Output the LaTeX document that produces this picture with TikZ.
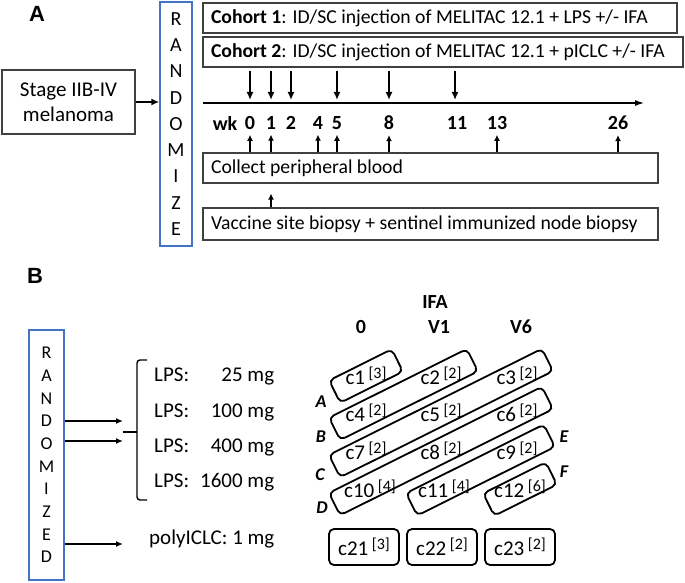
\documentclass[tikz,border=0pt]{standalone}
\usepackage{fontspec}
\setmainfont{Carlito}
\newfontfamily\panelfont{Liberation Sans}
\usetikzlibrary{arrows.meta,calc}
\definecolor{randblue}{RGB}{68,114,196}
\newcommand{\ncount}[1]{\,\raisebox{6pt}{\fontsize{16}{16}\selectfont[#1]}}

\begin{document}
\begin{tikzpicture}[
        x=1pt, y=-1pt,
        tbox/.style={draw=black!75, line width=1.1pt, rectangle, inner xsep=8pt, inner ysep=0pt, font=\fontsize{19.7}{24}\selectfont},
        rbox/.style={draw=randblue, line width=1.4pt, align=center, inner sep=0pt},
        wk/.style={font=\fontsize{20}{24}\selectfont\bfseries, inner sep=2pt},
        big/.style={->, >={Latex[length=8pt,width=7pt]}, line width=2pt},
        small/.style={->, >={Latex[length=6pt,width=6pt]}, line width=1.5pt},
        clab/.style={font=\fontsize{21}{25}\selectfont, inner sep=1pt},
        band/.style={draw, line width=1.8pt, rounded corners=5pt, rotate=26.5, minimum height=25pt, inner sep=0pt},
        cbox/.style={draw, line width=1.8pt, rounded corners=5pt, minimum width=70pt, minimum height=36pt, font=\fontsize{21}{25}\selectfont},
        steplab/.style={font=\fontsize{18}{20}\selectfont\bfseries\itshape}
        ]
    \useasboundingbox (0,0) rectangle (685,583);

    % Panel A
    \node[font=\panelfont\fontsize{22}{24}\selectfont\bfseries] (panA) at (37,14) {A};
    \node[tbox, align=center, inner xsep=0pt, minimum width=133pt, minimum height=64pt, font=\fontsize{21}{25}\selectfont] (stage) at (68.5,102) {Stage IIB-IV\\melanoma};
    \node[rbox, minimum width=32pt, minimum height=244pt, font=\fontsize{20}{26.25}\selectfont] (randA) at (176,124) {R\\A\\N\\D\\O\\M\\I\\Z\\E};
    \node[tbox, minimum height=30pt] (coh1) at (440,18) {\makebox[458pt][l]{\textbf{Cohort 1}: ID/SC injection of MELITAC 12.1 + LPS +/- IFA}};
    \node[tbox, minimum height=30pt] (coh2) at (443,52) {\makebox[464pt][l]{\textbf{Cohort 2}: ID/SC injection of MELITAC 12.1 + pICLC +/- IFA}};
    \node[tbox, minimum height=30pt] (blood) at (430.5,168) {\makebox[439pt][l]{Collect peripheral blood}};
    \node[tbox, minimum height=32pt] (biopsy) at (430.5,224) {\makebox[439pt][l]{Vaccine site biopsy + sentinel immunized node biopsy}};

    \draw[big] (stage.east) -- (stage.east -| randA.west);

    % Time line and weeks
    \coordinate (tl0) at (203,103);
    \coordinate (tl1) at (645,103);
    \draw[line width=2pt, -{Latex[length=10pt,width=6pt]}] (tl0) -- (tl1);

    \node[wk] (wk) at (225,123) {wk};
    \node[wk] (w0) at (250,123) {0};
    \node[wk] (w1) at (271,123) {1};
    \node[wk] (w2) at (291,123) {2};
    \node[wk] (w4) at (318,123) {4};
    \node[wk] (w5) at (337,123) {5};
    \node[wk] (w8) at (389,123) {8};
    \node[wk] (w11) at (457,123) {11};
    \node[wk] (w13) at (497,123) {13};
    \node[wk] (w26) at (618,123) {26};

    % Injections
    \draw[big, shorten <=3pt, shorten >=3pt] (coh2.south -| w0) -- (tl0 -| w0);
    \draw[big, shorten <=3pt, shorten >=3pt] (coh2.south -| w1) -- (tl0 -| w1);
    \draw[big, shorten <=3pt, shorten >=3pt] (coh2.south -| w2) -- (tl0 -| w2);
    \draw[big, shorten <=3pt, shorten >=3pt] (coh2.south -| w5) -- (tl0 -| w5);
    \draw[big, shorten <=3pt, shorten >=3pt] (coh2.south -| w8) -- (tl0 -| w8);
    \draw[big, shorten <=3pt, shorten >=3pt] ([xshift=-2pt]coh2.south -| w11) -- ([xshift=-2pt]tl0 -| w11);

    % Blood draws and biopsy
    \draw[small, shorten >=3pt] (blood.north -| w0) -- (w0.south);
    \draw[small, shorten >=3pt] (blood.north -| w1) -- (w1.south);
    \draw[small, shorten >=3pt] (blood.north -| w4) -- (w4.south);
    \draw[small, shorten >=3pt] (blood.north -| w5) -- (w5.south);
    \draw[small, shorten >=3pt] (blood.north -| w8) -- (w8.south);
    \draw[small, shorten >=3pt] (blood.north -| w13) -- (w13.south);
    \draw[small, shorten >=3pt] (blood.north -| w26) -- (w26.south);
    \draw[small, shorten >=10pt] (biopsy.north -| w1) -- (blood.south -| w1);

    % Panel B
    \node[font=\panelfont\fontsize{22}{24}\selectfont\bfseries] (panB) at (35,276) {B};
    \node[rbox, minimum width=35pt, minimum height=250pt, font=\fontsize{18}{22.7}\selectfont] (randB) at (46.5,455) {R\\A\\N\\D\\O\\M\\I\\Z\\E\\D};

    \coordinate (b1) at (123,421);
    \coordinate (b2) at (123,441);
    \coordinate (b3) at (123,544);
    \draw[big, >={Latex[length=7pt,width=6pt]}] (randB.east |- b1) -- (b1);
    \draw[big, >={Latex[length=7pt,width=6pt]}] (randB.east |- b2) -- (b2);
    \draw[big, >={Latex[length=7pt,width=6pt]}] (randB.east |- b3) -- (b3);

    % LPS doses
    \draw[line width=1.4pt, rounded corners=3pt] (147,360) -- (137,360) -- (137,500) -- (147,500);
    \draw[line width=1.4pt] (123,432) -- (137,432);
    \node[clab, anchor=west] (lps1) at (153,376) {LPS:\makebox[85pt][r]{25 mg}};
    \node[clab, anchor=west] (lps2) at (153,412) {LPS:\makebox[85pt][r]{100 mg}};
    \node[clab, anchor=west] (lps3) at (153,447) {LPS:\makebox[85pt][r]{400 mg}};
    \node[clab, anchor=west] (lps4) at (153,482) {LPS:\makebox[85pt][r]{1600 mg}};
    \node[clab, anchor=west] (poly) at (148,539) {polyICLC: 1 mg};

    % IFA headers
    \node[wk] (ifa) at (435,302) {IFA};
    \node[wk] (ifa0) at (361,327) {0};
    \node[wk] (ifa1) at (439,327) {V1};
    \node[wk] (ifa6) at (521,327) {V6};

    % Cohort labels
    \node[clab] (c1) at (366,376) {c1\ncount{3}};
    \node[clab] (c2) at (441,376) {c2\ncount{2}};
    \node[clab] (c3) at (517,376) {c3\ncount{2}};
    \node[clab] (c4) at (366,413) {c4\ncount{2}};
    \node[clab] (c5) at (441,413) {c5\ncount{2}};
    \node[clab] (c6) at (517,413) {c6\ncount{2}};
    \node[clab] (c7) at (366,451) {c7\ncount{2}};
    \node[clab] (c8) at (441,451) {c8\ncount{2}};
    \node[clab] (c9) at (517,451) {c9\ncount{2}};
    \node[clab] (c10) at (370,489) {c10\ncount{4}};
    \node[clab] (c11) at (444,489) {c11\ncount{4}};
    \node[clab] (c12) at (520,489) {c12\ncount{6}};

    % Dose bands
    \node[band, minimum width=70pt] (bnd1) at (c1) {};
    \node[band, minimum width=154pt] (bndA) at ($(c4)!0.5!(c2)$) {};
    \node[band, minimum width=238pt] (bndB) at (c5) {};
    \node[band, minimum width=238pt] (bndC) at (c8) {};
    \node[band, minimum width=154pt] (bndE) at ($(c11)!0.5!(c9)$) {};
    \node[band, minimum width=70pt] (bndF) at (c12) {};

    \node[steplab] (sA) at (321,402) {A};
    \node[steplab] (sB) at (321,437) {B};
    \node[steplab] (sC) at (320,475) {C};
    \node[steplab] (sD) at (322,508) {D};
    \node[steplab] (sE) at (564,437) {E};
    \node[steplab] (sF) at (564,472) {F};

    % polyICLC cohorts
    \node[cbox] (c21) at (364,547) {c21\ncount{3}};
    \node[cbox] (c22) at (442,547) {c22\ncount{2}};
    \node[cbox] (c23) at (520,547) {c23\ncount{2}};

\end{tikzpicture}
\end{document}
